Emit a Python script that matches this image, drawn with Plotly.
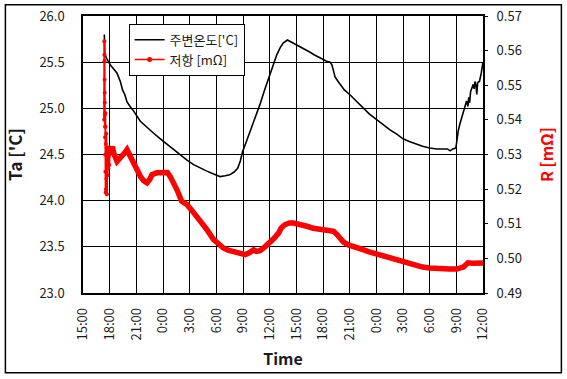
import plotly.graph_objects as go

# ---- data (hours after 15:00 on day 1) ----
tick_hours = [0, 3, 6, 9, 12, 15, 18, 21, 24, 27, 30, 33, 36, 39, 42, 45]
tick_labels = ["15:00", "18:00", "21:00", "0:00", "3:00", "6:00", "9:00", "12:00",
               "15:00", "18:00", "21:00", "0:00", "3:00", "6:00", "9:00", "12:00"]

temp_hours = [2.40, 2.45, 2.6, 3.08, 3.5, 3.83, 4.2, 4.45, 4.7, 4.95, 5.3, 5.7, 6.45, 7.2, 7.95,
              8.7, 9.45, 10.2, 10.95, 11.7, 12.44, 13.2, 13.94, 14.7, 15.44, 16.0, 16.5, 17.0,
              17.4, 17.7, 17.95, 18.3, 18.8, 19.3, 19.9, 20.4, 20.9, 21.4, 21.8, 22.2, 22.55,
              23.0, 23.4, 23.7, 24.4, 25.0, 25.5, 26.0, 26.6, 27.4, 27.8, 28.0, 28.2, 28.35,
              28.7, 28.9, 29.4, 30.0, 30.7, 31.5, 32.2, 33.0, 33.8, 34.5, 35.3, 36.0, 36.7,
              37.5, 38.2, 39.0, 39.8, 40.5, 41.0, 41.3, 41.6, 41.95, 42.1, 42.2, 42.4, 42.6,
              42.8, 43.0, 43.15, 43.3, 43.4, 43.5, 43.6, 43.75, 43.9, 44.0, 44.1, 44.2, 44.3,
              44.4, 44.6, 44.8, 45.0]
temp_values = [25.80, 25.60, 25.55, 25.47, 25.42, 25.38, 25.29, 25.20, 25.15, 25.07, 25.02, 24.97,
               24.86, 24.79, 24.73, 24.67, 24.61, 24.55, 24.50, 24.44, 24.39, 24.35, 24.32, 24.29,
               24.26, 24.27, 24.28, 24.31, 24.35, 24.43, 24.53, 24.62, 24.75, 24.88, 25.04, 25.19,
               25.33, 25.47, 25.58, 25.66, 25.71, 25.74, 25.72, 25.70, 25.67, 25.64, 25.61, 25.58,
               25.55, 25.51, 25.50, 25.47, 25.40, 25.34, 25.29, 25.26, 25.20, 25.15, 25.08, 25.00,
               24.94, 24.88, 24.82, 24.77, 24.72, 24.67, 24.64, 24.61, 24.59, 24.57, 24.56, 24.56,
               24.56, 24.54, 24.56, 24.57, 24.68, 24.75, 24.83, 24.90, 24.97, 25.05, 25.08, 25.02,
               25.12, 25.06, 25.18, 25.22, 25.26, 25.21, 25.29, 25.25, 25.15, 25.28, 25.29, 25.38,
               25.50]

# resistance: early noisy spike (drawn with markers)
res_spike_hours = [2.38, 2.40, 2.41, 2.42, 2.43, 2.44, 2.45, 2.46, 2.47, 2.48, 2.50, 2.51, 2.52,
                   2.54, 2.55, 2.57, 2.59, 2.61, 2.63, 2.66, 2.69, 2.72, 2.76, 2.80, 2.85, 2.90,
                   2.95, 3.0]
res_spike_values = [0.5400, 0.5627, 0.5588, 0.5569, 0.5516, 0.5478, 0.5450, 0.5415, 0.5380,
                    0.5350, 0.5300, 0.5420, 0.5250, 0.5380, 0.5190, 0.5330, 0.5200, 0.5360,
                    0.5230, 0.5320, 0.5185, 0.5300, 0.5240, 0.5310, 0.5260, 0.5320, 0.5270,
                    0.5300]

# resistance: remainder (dense markers -> thick band)
res_hours = [3.0, 3.1, 3.3, 3.5, 3.83, 4.1, 4.4, 4.7, 4.95, 5.3, 5.7, 6.1, 6.45, 6.8, 7.2, 7.5,
             7.76, 8.3, 8.8, 9.26, 9.5, 9.8, 10.2, 10.57, 11.1, 11.7, 12.2, 12.8, 13.4, 13.94,
             14.7, 15.3, 15.8, 16.3, 16.9, 17.5, 18.25, 18.7, 19.2, 19.5, 19.9, 20.4, 21.0, 21.5,
             22.0, 22.3, 22.7, 23.2, 23.7, 24.2, 24.8, 25.3, 25.9, 26.5, 27.0, 27.6, 28.2, 28.6,
             28.9, 29.3, 29.85, 30.5, 31.5, 32.2, 33.0, 33.8, 34.5, 35.3, 36.0, 36.7, 37.5, 38.2,
             39.0, 39.8, 40.5, 41.2, 42.0, 42.5, 42.8, 43.1, 43.3, 43.8, 44.3, 45.0]
res_values = [0.5300, 0.5310, 0.5323, 0.5300, 0.5280, 0.5288, 0.5295, 0.5305, 0.5314, 0.5295,
              0.5276, 0.5255, 0.5237, 0.5225, 0.5218, 0.5228, 0.5242, 0.5247, 0.5248, 0.5251,
              0.5248, 0.5237, 0.5220, 0.5198, 0.5165, 0.5155, 0.5140, 0.5121, 0.5100, 0.5083,
              0.5054, 0.5040, 0.5030, 0.5024, 0.5020, 0.5015, 0.5011, 0.5016, 0.5025, 0.5020,
              0.5022, 0.5032, 0.5044, 0.5058, 0.5073, 0.5088, 0.5097, 0.5102, 0.5102, 0.5100,
              0.5097, 0.5092, 0.5087, 0.5085, 0.5083, 0.5080, 0.5078, 0.5068, 0.5059, 0.5047,
              0.5039, 0.5032, 0.5025, 0.5019, 0.5013, 0.5007, 0.5001, 0.4994, 0.4988, 0.4983,
              0.4979, 0.4975, 0.4972, 0.4970, 0.4969, 0.4969, 0.4969, 0.4971, 0.4975, 0.4982,
              0.4987, 0.4986, 0.4985, 0.4987]

FONT = "Noto Sans CJK KR, Noto Sans, sans-serif"
RED = "#FF0000"

fig = go.Figure()

fig.add_trace(go.Scatter(x=temp_hours, y=temp_values, mode="lines", name="주변온도['C]",
                         line=dict(color="black", width=1.6), yaxis="y"))
fig.add_trace(go.Scatter(x=res_spike_hours, y=res_spike_values, mode="lines+markers",
                         line=dict(color=RED, width=2), marker=dict(color=RED, size=4),
                         showlegend=False, yaxis="y2"))
fig.add_trace(go.Scatter(x=res_hours, y=res_values, mode="lines",
                         line=dict(color=RED, width=5.5), showlegend=False, yaxis="y2"))
# legend entry for resistance (line with markers)
fig.add_trace(go.Scatter(x=[None], y=[None], mode="lines+markers", name="저항 [mΩ]",
                         line=dict(color=RED, width=1.5), marker=dict(color=RED, size=5),
                         yaxis="y2"))

fig.update_layout(
    width=567, height=379,
    margin=dict(l=83, r=84, t=16, b=86, autoexpand=False),
    paper_bgcolor="white", plot_bgcolor="white",
    font=dict(family=FONT, size=13, color="#1a1a1a"),
    showlegend=True,
    legend=dict(x=0.114, y=0.972, xanchor="left", yanchor="top",
                bgcolor="white", bordercolor="black", borderwidth=1,
                font=dict(family=FONT, size=13, color="#1a1a1a"),
                tracegroupgap=0, itemwidth=30),
    xaxis=dict(range=[0, 45], tickmode="array", tickvals=tick_hours, ticktext=tick_labels,
               tickangle=-90, showgrid=True, gridcolor="black", gridwidth=1,
               showline=True, linecolor="black", linewidth=1.5, mirror=True,
               ticks="", zeroline=False, ticklabelstandoff=8, automargin=False,
               title=dict(text="<b>Time</b>", font=dict(size=16, color="#1a1a1a"), standoff=14)),
    yaxis=dict(range=[23, 26], dtick=0.5, tickformat=".1f", showgrid=True,
               gridcolor="black", gridwidth=1, showline=True, linecolor="black",
               linewidth=1.5, mirror=True, ticks="", zeroline=False, ticklabelstandoff=14,
               automargin=False,
               title=dict(text="<b>Ta ['C]</b>", font=dict(size=17, color="#1a1a1a"), standoff=12)),
    yaxis2=dict(range=[0.49, 0.57], dtick=0.01, tickformat=".2f", overlaying="y",
                side="right", showgrid=False, zeroline=False, showline=False,
                ticks="outside", ticklen=4, tickcolor="black", ticklabelstandoff=6,
                automargin=False,
                title=dict(text="<b>R [mΩ]</b>", font=dict(size=16, color=RED), standoff=20)),
    shapes=[dict(type="rect", xref="paper", yref="paper", x0=-0.194, x1=1.196,
                 y0=-0.288, y1=1.041, line=dict(color="black", width=1.5), layer="below")],
)

fig.write_html("out.html", config={"displayModeBar": False},
               post_script="document.body.style.margin='0';")
